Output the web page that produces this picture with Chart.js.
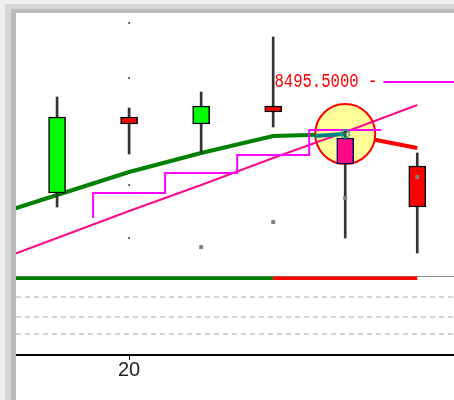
<!DOCTYPE html>
<html>
<head>
<meta charset="utf-8">
<script src="https://cdn.jsdelivr.net/npm/chart.js@4.4.1/dist/chart.umd.min.js"></script>
<style>
  html, body { margin: 0; padding: 0; background: #fff; width: 454px; height: 400px; overflow: hidden; }
  .band { position: absolute; }
  #b1 { left: 0; top: 0; width: 454px; height: 400px; background: #efefef; }
  #b2 { left: 5px; top: 4px; width: 449px; height: 396px; background: #d6d6d6; }
  #b3 { left: 11px; top: 9px; width: 443px; height: 391px; background: #bcbcbc; }
  #frame { position: absolute; left: 16px; top: 13px; width: 438px; height: 387px; background: #fff; }
  #mainBox { position: absolute; left: 0; top: 0; width: 438px; height: 263px; }
  #lowerBox { position: absolute; left: 0; top: 263px; width: 438px; height: 124px; }
</style>
</head>
<body>
<div class="band" id="b1"></div>
<div class="band" id="b2"></div>
<div class="band" id="b3"></div>
<div id="frame">
  <div id="mainBox"><canvas id="mainChart"></canvas></div>
  <div id="lowerBox"><canvas id="lowerChart"></canvas></div>
</div>
<script>
// bar numbers, position index = array index
const barNo = [18, 19, 20, 21, 22, 23, 24];
const tickIdx = [2];

// candles (index 0 is off screen)
const open  = [null, 8440,   8478,   8474.5, 8483.5, 8467.5, 8453.5];
const close = [null, 8478,   8474.5, 8483.5, 8480.5, 8454.5, 8433];
const high  = [null, 8488,   8482.5, 8490.5, 8518,   8471.5, 8460];
const low   = [null, 8433,   8459.5, 8460,   8473,   8417.5, 8410];
const highlightBar = 5;

// indicator lines
const avgLine   = [8427.5, 8439, 8450.5, 8460, 8468.5, 8469.5, 8462.5];
const avgRedFrom = 5;
const trendLine = [8404, 8417.5, 8431, 8444, 8457.5, 8470.5, 8484];
const stepX = [1.5, 2.5, 3.5, 4.5, 5.5];
const stepY = [8427.5, 8440, 8450, 8459, 8471.5];
const sarX = [3, 4, 5, 6];
const sarY = [8413, 8425.5, 8437.5, 8448];
const gridDotsY = [8525, 8497.5, 8471, 8444, 8417.5];
const tealX = [4.57, 5];
const tealY = [8468.5, 8469.5];

// price level marker
const levelPrice = 8495.5;
const levelX = [5.53, 7];

// lower panel
const lowerLine = [97, 97, 97, 97, 97, 97, 97];
const lowerRedFrom = 4;
const lowerTop = 100;
const lowerDashed = [73, 48, 27];

const xMin = 0.43, xMax = 6.51;

const candleIdx = open.map((v, i) => i).filter(i => open[i] !== null);
const bodyColor = candleIdx.map(i => i === highlightBar ? '#ff0a84' : (close[i] > open[i] ? '#00ff00' : '#ff0000'));
const bodyBorder = candleIdx.map(i => i === highlightBar ? '#000060' : '#000000');

const levelLabel = {
  id: 'levelLabel',
  afterDatasetsDraw(chart) {
    const ctx = chart.ctx;
    const x = chart.scales.x.getPixelForValue(levelX[0]) - 6;
    const y = chart.scales.y.getPixelForValue(levelPrice);
    ctx.save();
    ctx.translate(x, y);
    ctx.scale(0.78, 1);
    ctx.font = '20px "Liberation Mono", "DejaVu Sans Mono", monospace';
    ctx.fillStyle = '#ff0000';
    ctx.textAlign = 'right';
    ctx.textBaseline = 'middle';
    ctx.fillText(levelPrice.toFixed(4) + ' -', 0, 0);
    ctx.restore();
  }
};

new Chart(document.getElementById('mainChart'), {
  type: 'bar',
  data: {
    datasets: [
      {
        type: 'scatter', order: 0,
        data: tealX.map((x, i) => ({ x: x, y: tealY[i] })),
        showLine: true, borderColor: '#008080', borderWidth: 4,
        pointRadius: [0, 4], pointBorderColor: '#20b080', pointBorderWidth: 1.5,
        pointBackgroundColor: 'rgba(0,0,0,0)'
      },
      {
        type: 'scatter', order: 1,
        data: sarX.map((x, i) => ({ x: x, y: sarY[i] })),
        pointStyle: 'rect', pointRadius: 2.8, backgroundColor: '#808080', borderWidth: 0
      },
      {
        order: 2, grouped: false, barThickness: 17, borderSkipped: false,
        data: candleIdx.map(i => ({ x: i, y: [open[i], close[i]] })),
        backgroundColor: bodyColor, borderColor: bodyBorder, borderWidth: 1.5
      },
      {
        order: 3, grouped: false, barThickness: 2,
        data: candleIdx.map(i => ({ x: i, y: [low[i], high[i]] })),
        backgroundColor: '#333'
      },
      {
        type: 'line', order: 4,
        data: stepX.map((x, i) => ({ x: x, y: stepY[i] })),
        stepped: 'after', borderColor: '#ff00ff', borderWidth: 2, pointRadius: 0
      },
      {
        type: 'line', order: 4,
        data: trendLine.map((v, i) => ({ x: i, y: v })),
        borderColor: '#ff0a8c', borderWidth: 2, pointRadius: 0
      },
      {
        type: 'line', order: 4,
        data: levelX.map(x => ({ x: x, y: levelPrice })),
        borderColor: '#ff00ff', borderWidth: 2, pointRadius: 0
      },
      {
        type: 'scatter', order: 5,
        data: gridDotsY.map(v => ({ x: tickIdx[0], y: v })),
        pointRadius: 1, backgroundColor: '#333', borderWidth: 0
      },
      {
        type: 'bubble', order: 6,
        data: [{ x: highlightBar, y: 8469.5, r: 30 }],
        backgroundColor: '#ffff99', borderColor: '#ff0000', borderWidth: 2
      },
      {
        type: 'line', order: 7,
        data: avgLine.map((v, i) => ({ x: i, y: v })),
        borderWidth: 4, pointRadius: 0,
        segment: { borderColor: c => c.p0DataIndex >= avgRedFrom ? '#ff0000' : '#008000' }
      }
    ]
  },
  options: {
    responsive: true, maintainAspectRatio: false, animation: false, events: [],
    layout: { padding: 0, autoPadding: false },
    plugins: { legend: { display: false }, tooltip: { enabled: false } },
    scales: {
      x: { type: 'linear', min: xMin, max: xMax, offset: false, display: false },
      y: { type: 'linear', min: 8398.5, max: 8530, display: false }
    }
  },
  plugins: [levelLabel]
});

const levelLines = {
  id: 'levelLines',
  beforeDatasetsDraw(chart) {
    const ctx = chart.ctx, a = chart.chartArea, y = chart.scales.y;
    ctx.save();
    ctx.strokeStyle = '#8c8c8c';
    ctx.lineWidth = 1;
    ctx.beginPath();
    ctx.moveTo(a.left, Math.round(y.getPixelForValue(lowerTop)) + 0.5);
    ctx.lineTo(a.right, Math.round(y.getPixelForValue(lowerTop)) + 0.5);
    ctx.stroke();
    ctx.strokeStyle = '#c4c4c4';
    ctx.lineWidth = 1.5;
    ctx.setLineDash([5, 4]);
    lowerDashed.forEach(v => {
      const py = Math.round(y.getPixelForValue(v));
      ctx.beginPath();
      ctx.moveTo(a.left, py);
      ctx.lineTo(a.right, py);
      ctx.stroke();
    });
    ctx.restore();
  }
};

new Chart(document.getElementById('lowerChart'), {
  type: 'line',
  data: {
    datasets: [{
      data: lowerLine.map((v, i) => ({ x: i, y: v })),
      borderWidth: 3.5, pointRadius: 0,
      segment: { borderColor: c => c.p0DataIndex >= lowerRedFrom ? '#ff0000' : '#008000' }
    }]
  },
  options: {
    responsive: true, maintainAspectRatio: false, animation: false, events: [],
    layout: { padding: { top: 0, left: 0, right: 0, bottom: 20 }, autoPadding: false },
    plugins: { legend: { display: false }, tooltip: { enabled: false } },
    scales: {
      x: {
        type: 'linear', min: xMin, max: xMax, offset: false,
        afterBuildTicks: s => { s.ticks = tickIdx.map(v => ({ value: v })); },
        ticks: {
          callback: v => barNo[v], autoSkip: false, maxRotation: 0, padding: 0,
          color: '#222', font: { size: 20, family: '"Liberation Sans", Arial, sans-serif', lineHeight: 1 }
        },
        grid: { drawOnChartArea: false, drawTicks: true, tickLength: 5, tickColor: '#000', tickWidth: 1 },
        border: { color: '#000', width: 2 }
      },
      y: { min: 0, max: 100, display: false }
    }
  },
  plugins: [levelLines]
});
</script>
</body>
</html>
